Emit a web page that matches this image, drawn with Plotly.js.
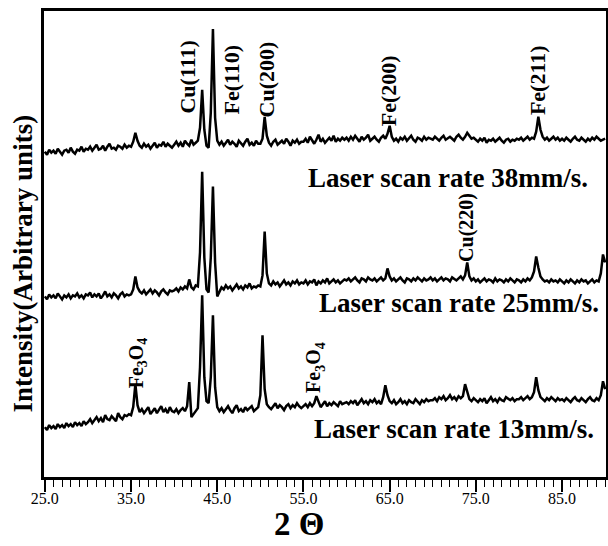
<!DOCTYPE html>
<html>
<head>
<meta charset="utf-8">
<script src="https://cdn.plot.ly/plotly-3.0.1.min.js"></script>
<style>html,body{margin:0;padding:0;background:#fff;}#chart{width:608px;height:546px;}</style>
</head>
<body>
<div id="chart"></div>
<script>
// 2-theta sampling of the digitised patterns (degrees)
const twoThetaStart = 25.0;
const twoThetaStep = 0.25;

// Laser scan rate 38mm/s (arbitrary intensity)
const rate38 = [
16,13,18,15,17,14,19,16,13,17,18,15,20,16,14,18,17,21,16,19,
18,21,17,20,23,18,19,22,17,21,24,19,20,18,22,21,19,23,20,22,
21,26,35,27,22,20,24,21,23,19,22,25,20,23,22,26,21,24,22,20,
23,26,22,25,21,27,24,22,28,23,25,27,40,78,38,22,20,55,139,50,
27,23,26,22,25,28,23,26,24,21,27,25,22,26,29,23,25,22,27,24,
24,29,51,32,25,22,26,28,23,25,27,24,29,26,22,27,25,28,24,26,
26,29,25,31,27,24,28,33,26,29,25,28,30,27,32,26,29,27,30,28,
30,27,31,28,32,29,26,31,28,30,33,27,29,31,28,26,30,32,29,34,
42,31,27,29,26,30,28,31,27,29,32,28,26,30,29,27,31,28,30,29,
28,31,29,27,30,32,28,30,31,29,27,31,33,30,28,31,35,32,29,30,
28,26,29,27,30,25,28,27,29,26,28,30,27,25,28,29,26,28,27,29,
28,30,27,29,31,28,30,29,36,51,38,31,28,30,27,29,31,28,30,27,
29,27,30,28,26,29,31,28,27,30,28,26,29,27,30,28,31,29,27,28,29
];

// Laser scan rate 25mm/s
const rate25 = [
11,8,13,10,12,9,14,11,8,12,10,13,9,12,11,14,10,12,9,13,
12,15,10,13,11,14,9,12,16,11,13,10,14,12,9,13,15,11,13,12,
13,18,31,20,16,14,17,13,16,18,14,17,15,12,16,18,15,13,17,16,
17,19,16,20,18,21,19,28,20,18,22,21,55,136,50,18,15,50,121,45,
11,16,20,18,22,19,21,17,20,23,19,21,18,22,20,24,19,21,20,22,
21,32,76,34,24,22,26,23,25,21,24,27,23,25,22,26,24,27,23,25,
24,27,23,26,25,28,22,26,24,27,25,29,24,26,28,25,27,24,26,28,
27,29,26,28,30,27,25,29,28,26,30,28,27,29,26,28,30,27,29,39,
31,27,29,26,28,30,27,25,29,28,26,29,27,30,28,26,29,27,28,30,
27,29,26,28,30,27,29,28,26,30,28,27,29,31,28,32,45,31,27,29,
26,28,25,27,29,26,28,27,25,29,26,28,27,25,28,26,29,27,25,28,
27,25,28,26,29,27,30,36,51,40,31,28,26,27,25,28,26,27,25,28,
26,24,27,25,28,26,24,27,25,28,26,27,24,26,28,25,27,26,34,53,45
];

// Laser scan rate 13mm/s
const rate13 = [
10,7,12,9,11,8,13,10,12,9,14,11,13,10,15,12,14,11,16,13,
15,18,14,17,20,16,19,15,22,18,17,21,19,16,24,20,18,22,21,23,
22,30,53,32,25,28,24,27,30,23,26,29,24,27,31,25,28,24,30,26,
25,28,24,27,29,26,31,55,20,23,26,29,70,142,60,36,34,60,122,50,
30,26,29,25,28,31,27,24,29,32,26,28,25,30,27,29,31,26,28,30,
42,102,48,33,30,28,31,34,29,32,30,27,31,33,29,32,30,34,31,29,
31,33,30,34,31,34,41,35,30,33,36,31,34,32,35,33,31,36,33,34,
35,33,36,34,37,32,35,38,34,36,33,37,35,38,34,36,33,40,52,42,
36,34,37,33,35,38,34,36,33,37,35,34,38,36,33,37,35,38,36,37,
37,39,36,40,38,41,37,39,42,38,40,37,41,39,41,53,44,38,36,39,
37,35,38,36,39,34,37,40,36,38,35,39,37,36,40,38,37,39,36,38,
38,40,37,39,41,38,40,45,60,47,40,38,36,39,37,40,38,36,39,37,
38,36,39,37,35,38,40,37,36,39,37,35,38,40,37,36,39,37,42,56,48
];

const seriesNames = ["Laser scan rate 38mm/s.", "Laser scan rate 25mm/s.", "Laser scan rate 13mm/s."];
const seriesData = [rate38, rate25, rate13];
// vertical stacking offsets of the patterns
const stackOffsets = [310, 170, 40];

const xTickVals = [25, 35, 45, 55, 65, 75, 85];
const xTitle = "2 Θ";
const yTitle = "Intensity(Arbitrary units)";

// peak labels: [text, 2theta, height, font size]
const peakLabels = [
  ["Cu(111)", 41.57, 401, 22],
  ["Fe(110)", 46.67, 398, 22],
  ["Cu(200)", 50.72, 398, 22],
  ["Fe(200)", 64.86, 387, 22],
  ["Fe(211)", 82.24, 398, 22],
  ["Cu(220)", 73.9, 250, 20],
  ["Fe<sub>3</sub>O<sub>4</sub>", 35.7, 114, 20],
  ["Fe<sub>3</sub>O<sub>4</sub>", 56.3, 110, 20]
];
// rate labels: [2theta, height]
const rateLabelPos = [[71.8, 300], [73.0, 174], [72.5, 48]];

const FONT = "'Liberation Serif', 'Times New Roman', serif";

const traces = seriesData.map((d, k) => ({
  type: "scatter",
  mode: "lines",
  name: seriesNames[k],
  x0: twoThetaStart,
  dx: twoThetaStep,
  y: d.map(v => v + stackOffsets[k]),
  line: {color: "#000", width: 2.5},
  hoverinfo: "skip"
}));

const annotations = [];
peakLabels.forEach(p => annotations.push({
  x: p[1], y: p[2], xref: "x", yref: "y", text: "<b>" + p[0] + "</b>",
  showarrow: false, textangle: -90, xanchor: "center", yanchor: "middle",
  font: {family: FONT, size: p[3], color: "#000"}
}));
rateLabelPos.forEach((p, k) => annotations.push({
  x: p[0], y: p[1], xref: "x", yref: "y", text: "<b>" + seriesNames[k] + "</b>",
  showarrow: false, xanchor: "center", yanchor: "middle",
  font: {family: FONT, size: 27, color: "#000"}
}));
// axis titles
annotations.push({
  x: 0.453, y: -0.101, xref: "paper", yref: "paper", text: "<b>" + xTitle + "</b>",
  showarrow: false, xanchor: "center", yanchor: "middle",
  font: {family: FONT, size: 33, color: "#000"}
});
annotations.push({
  x: -0.0373, y: 0.458, xref: "paper", yref: "paper", text: "<b>" + yTitle + "</b>",
  showarrow: false, textangle: -90, xanchor: "center", yanchor: "middle",
  font: {family: FONT, size: 27, color: "#000"}
});

const layout = {
  width: 608, height: 546,
  margin: {l: 44, r: 2, t: 11, b: 69},
  paper_bgcolor: "#fff", plot_bgcolor: "#fff",
  showlegend: false,
  font: {family: FONT, color: "#000"},
  xaxis: {
    range: [24.9, 90.1],
    tickvals: xTickVals,
    ticktext: xTickVals.map(v => v.toFixed(1)),
    ticks: "outside", ticklen: 12, tickwidth: 2, tickcolor: "#000",
    ticklabelstandoff: -7,
    minor: {dtick: 1, tick0: 25, ticks: "outside", ticklen: 7, tickwidth: 1, tickcolor: "#000", showgrid: false},
    showgrid: false, zeroline: false,
    showline: true, linewidth: 3, linecolor: "#000", mirror: true,
    tickfont: {family: FONT, size: 16, color: "#000"}
  },
  yaxis: {
    range: [0, 467],
    showticklabels: false, ticks: "",
    showgrid: false, zeroline: false,
    showline: true, linewidth: 3, linecolor: "#000", mirror: true
  },
  annotations: annotations
};

Plotly.newPlot("chart", traces, layout, {displayModeBar: false, staticPlot: true});
</script>
</body>
</html>
